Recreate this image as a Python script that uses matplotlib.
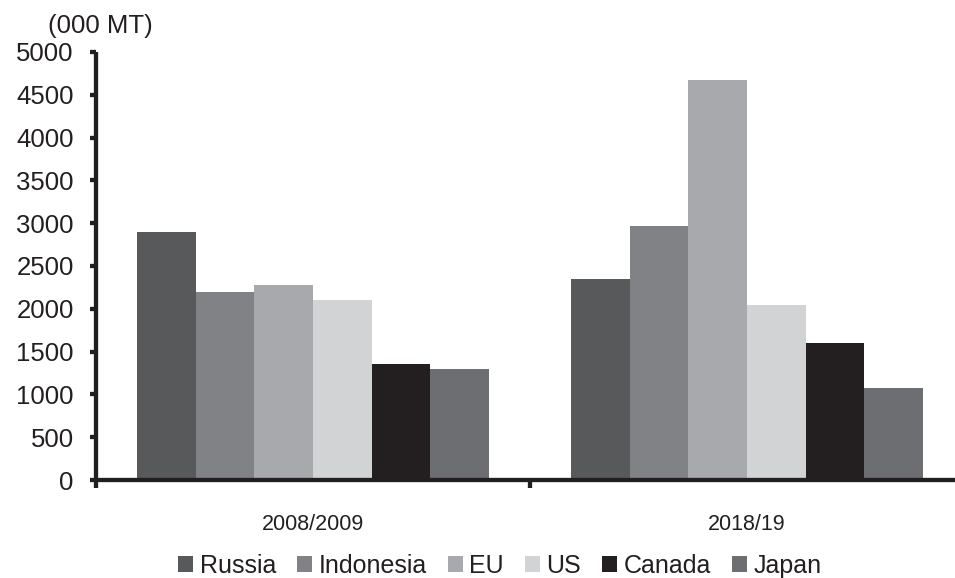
import matplotlib
matplotlib.use("Agg")
import matplotlib.pyplot as plt
from matplotlib.ticker import FixedLocator, NullFormatter
import numpy as np

plt.rcParams['font.family'] = ['Liberation Sans', 'DejaVu Sans']

periods = ["2008/2009", "2018/19"]
countries = ["Russia", "Indonesia", "EU", "US", "Canada", "Japan"]
russia = [2900, 2350]
indonesia = [2200, 2970]
eu = [2280, 4670]
us = [2100, 2040]
canada = [1360, 1600]
japan = [1300, 1075]
yticks = [0, 500, 1000, 1500, 2000, 2500, 3000, 3500, 4000, 4500, 5000]

series = [russia, indonesia, eu, us, canada, japan]
colors = ["#58595b", "#808285", "#a7a9ac", "#d1d3d4", "#231f20", "#6d6e71"]
ink = "#231f20"

W, H = 955, 578
fig = plt.figure(figsize=(W / 100, H / 100), dpi=100)
ax = fig.add_axes([96 / W, 1 - 480 / H, 868 / W, 428 / H])

x = np.arange(len(periods))
bw = 0.1348
n = len(series)
for i, (vals, c, name) in enumerate(zip(series, colors, countries)):
    offs = (i - (n - 1) / 2) * bw
    ax.bar(x + offs, vals, width=bw, color=c, label=name, linewidth=0, zorder=2)

ax.set_xlim(-0.5, 1.5)
ax.set_ylim(0, 5000)

for s in ["top", "right"]:
    ax.spines[s].set_visible(False)
for s in ["left", "bottom"]:
    ax.spines[s].set_linewidth(3.1)
    ax.spines[s].set_color(ink)
    ax.spines[s].set_zorder(3)
    ax.spines[s].set_capstyle("butt")

ax.set_yticks(yticks)
ax.set_yticklabels([str(v) for v in yticks])
ax.tick_params(axis="y", direction="out", length=4.5, width=3.1, color=ink,
               labelsize=18.5, pad=11.5, labelcolor=ink)

# category boundaries carry the ticks; the names sit between them
ax.xaxis.set_major_locator(FixedLocator([-0.5, 0.5, 1.5]))
ax.xaxis.set_major_formatter(NullFormatter())
ax.xaxis.set_minor_locator(FixedLocator(list(x)))
ax.set_xticklabels(periods, minor=True)
ax.tick_params(axis="x", which="major", direction="out", length=6, width=3.1, color=ink)
ax.tick_params(axis="x", which="minor", length=0, labelsize=15.5, pad=24.5, labelcolor=ink)

fig.text(48 / W, 1 - 26 / H, "(000 MT)", fontsize=18.5, color=ink, ha="left", va="center")

fig.legend(loc="center", bbox_to_anchor=(500 / W, 1 - 566 / H), ncol=6, frameon=False,
           fontsize=18, handlelength=0.6, handleheight=0.6, handletextpad=0.25,
           columnspacing=0.85, borderaxespad=0, borderpad=0, labelcolor=ink)

fig.savefig("out.png", dpi=100)
